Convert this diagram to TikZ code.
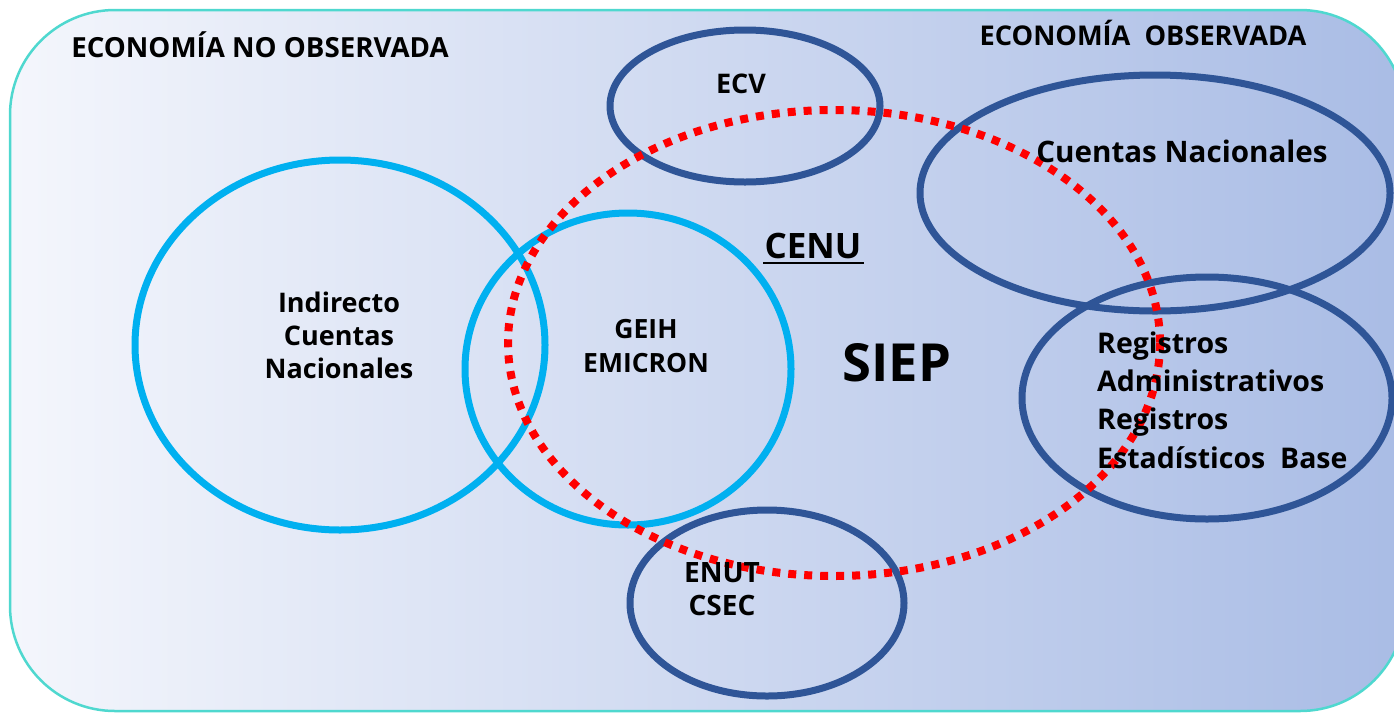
\documentclass[tikz,border=0pt]{standalone}
\usepackage{fontspec}
\setmainfont{Open Sans}
\definecolor{bgL}{HTML}{F4F6FC}
\definecolor{bgM}{HTML}{CAD6EF}
\definecolor{bgR}{HTML}{A9BCE5}
\definecolor{rimteal}{HTML}{4FD8CF}
\definecolor{lblue}{HTML}{00B0F0}
\definecolor{dblue}{HTML}{2F5597}
\definecolor{dotred}{HTML}{FF0000}
\newcommand\myfs[2]{\fontsize{#1}{#2}\selectfont\bfseries}
\begin{document}
\begin{tikzpicture}[x=1pt,y=-1pt,
  txt/.style={inner sep=0pt, text=black},
  lbring/.style={draw=lblue, line width=7pt},
  dbring/.style={draw=dblue, line width=7pt},
  reddots/.style={draw=dotred, line width=8pt, dash pattern=on 8pt off 8pt}]
\useasboundingbox (0,0) rectangle (1394,713);
\clip (0,0) rectangle (1394,713);
% background panel
\shade[left color=bgL, middle color=bgM, right color=bgR, rounded corners=105pt]
  (10,10) rectangle (1405,711);
\draw[rimteal, line width=2.5pt, rounded corners=105pt] (10,10) rectangle (1405,711);
% light blue circles
\draw[lbring] (340,345) ellipse [x radius=205, y radius=185];
\draw[lbring] (628,369) ellipse [x radius=163, y radius=156];
% dark blue ellipses
\draw[dbring] (745,106) ellipse [x radius=135, y radius=76];
\draw[dbring] (1155,193) ellipse [x radius=235, y radius=118];
\draw[dbring] (1207,398) ellipse [x radius=185, y radius=121];
\draw[dbring] (767,603) ellipse [x radius=137, y radius=93];
% red dotted SIEP boundary
\draw[reddots] (834,343) ellipse [x radius=326, y radius=233];
% texts
\node[txt, anchor=base, font=\myfs{27.7}{32}] (noobs) at (260,57) {ECONOMÍA NO OBSERVADA};
\node[txt, anchor=base, font=\myfs{27.2}{30}] (obs) at (1143,45) {ECONOMÍA\ \ OBSERVADA};
\node[txt, anchor=base, font=\myfs{27}{32}] (ecv) at (741,93) {ECV};
\node[txt, anchor=base, font=\myfs{29.6}{36}] (cn) at (1182,162) {Cuentas Nacionales};
\node[txt, anchor=base, font=\myfs{35}{40}] (cenu) at (813,258) {CENU};
\draw[black, line width=2.5pt] ([yshift=-5pt,xshift=-1pt]cenu.base west) -- ([yshift=-5pt,xshift=2pt]cenu.base east);
\node[txt, anchor=base, font=\myfs{52.5}{60}] (siep) at (897,381) {SIEP};
\node[txt, anchor=base, align=center, font=\myfs{27}{33}] (ind) at (339,378) {Indirecto\\Cuentas\\Nacionales};
\node[txt, anchor=base, align=center, font=\myfs{26.5}{34}] (geih) at (646,372) {GEIH\\EMICRON};
\node[txt, anchor=base west, align=left, font=\myfs{28.5}{38.3}] (reg) at (1097,468) {Registros\\Administrativos\\Registros\\Estadísticos\ \ Base};
\node[txt, anchor=base, align=center, font=\myfs{28}{33}] (enut) at (722,615) {ENUT\\CSEC};
\end{tikzpicture}
\end{document}
